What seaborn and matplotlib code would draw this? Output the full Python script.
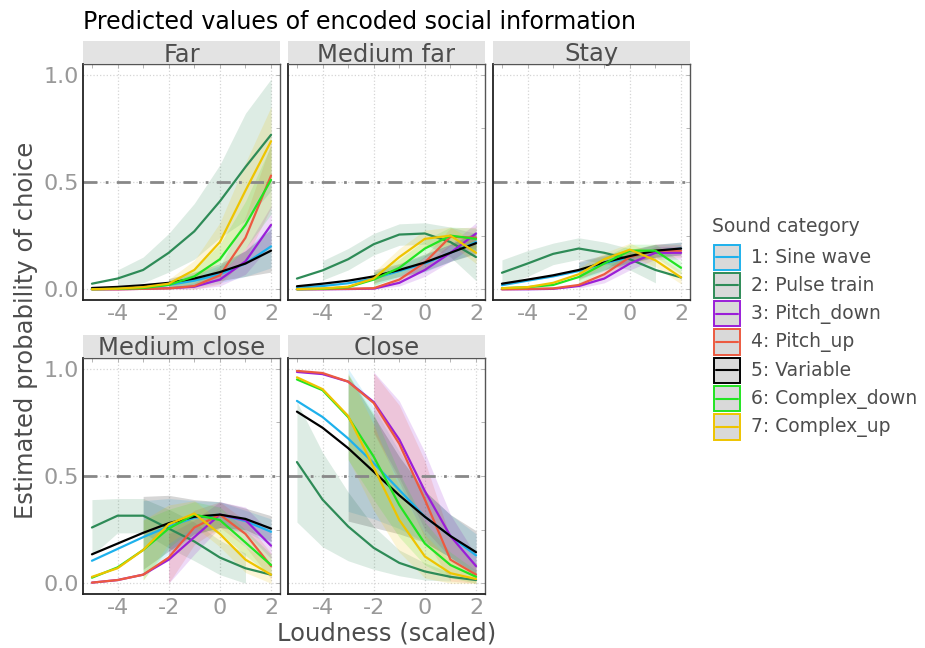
import matplotlib
matplotlib.use("Agg")
import matplotlib.pyplot as plt
from matplotlib.patches import Rectangle
from matplotlib.lines import Line2D
import numpy as np
import pandas as pd
import seaborn as sns

# ---- data ----
loudness = [-5, -4, -3, -2, -1, 0, 1, 2]
categories = ['1: Sine wave', '2: Pulse train', '3: Pitch_down', '4: Pitch_up',
              '5: Variable', '6: Complex_down', '7: Complex_up']
colors = ['#1EB1EC', '#2E8B57', '#9A1ED8', '#EC5A40', '#000000', '#22E422', '#EEC400']
panels = ['Far', 'Medium far', 'Stay', 'Medium close', 'Close']

far = {
    '1: Sine wave':    [0.002, 0.004, 0.008, 0.02, 0.04, 0.07, 0.12, 0.20],
    '2: Pulse train':  [0.026, 0.05, 0.09, 0.17, 0.27, 0.41, 0.57, 0.72],
    '3: Pitch_down':   [0.0, 0.0, 0.002, 0.005, 0.012, 0.045, 0.13, 0.30],
    '4: Pitch_up':     [0.0, 0.0, 0.002, 0.004, 0.015, 0.065, 0.24, 0.53],
    '5: Variable':     [0.006, 0.011, 0.019, 0.03, 0.05, 0.08, 0.12, 0.18],
    '6: Complex_down': [0.0, 0.002, 0.006, 0.02, 0.06, 0.14, 0.30, 0.51],
    '7: Complex_up':   [0.0, 0.003, 0.01, 0.026, 0.09, 0.22, 0.46, 0.69],
}
medium_far = {
    '1: Sine wave':    [0.008, 0.015, 0.028, 0.05, 0.085, 0.12, 0.17, 0.22],
    '2: Pulse train':  [0.05, 0.088, 0.14, 0.21, 0.255, 0.26, 0.22, 0.15],
    '3: Pitch_down':   [0.0, 0.0, 0.001, 0.003, 0.03, 0.09, 0.17, 0.26],
    '4: Pitch_up':     [0.0, 0.001, 0.002, 0.005, 0.045, 0.125, 0.245, 0.24],
    '5: Variable':     [0.014, 0.026, 0.04, 0.06, 0.09, 0.125, 0.17, 0.215],
    '6: Complex_down': [0.0, 0.002, 0.01, 0.045, 0.10, 0.19, 0.25, 0.235],
    '7: Complex_up':   [0.001, 0.004, 0.012, 0.05, 0.15, 0.235, 0.25, 0.17],
}
stay = {
    '1: Sine wave':    [0.019, 0.04, 0.06, 0.085, 0.12, 0.15, 0.178, 0.19],
    '2: Pulse train':  [0.077, 0.12, 0.165, 0.19, 0.17, 0.14, 0.09, 0.055],
    '3: Pitch_down':   [0.0, 0.0, 0.002, 0.015, 0.05, 0.12, 0.17, 0.17],
    '4: Pitch_up':     [0.0, 0.002, 0.004, 0.02, 0.07, 0.15, 0.18, 0.18],
    '5: Variable':     [0.026, 0.045, 0.065, 0.09, 0.125, 0.155, 0.18, 0.19],
    '6: Complex_down': [0.005, 0.01, 0.02, 0.057, 0.12, 0.18, 0.18, 0.10],
    '7: Complex_up':   [0.005, 0.01, 0.03, 0.07, 0.14, 0.185, 0.135, 0.055],
}
medium_close = {
    '1: Sine wave':    [0.105, 0.16, 0.215, 0.265, 0.305, 0.32, 0.29, 0.24],
    '2: Pulse train':  [0.26, 0.315, 0.315, 0.255, 0.195, 0.12, 0.07, 0.04],
    '3: Pitch_down':   [0.003, 0.015, 0.04, 0.11, 0.215, 0.32, 0.295, 0.175],
    '4: Pitch_up':     [0.003, 0.015, 0.04, 0.12, 0.26, 0.32, 0.23, 0.08],
    '5: Variable':     [0.135, 0.185, 0.235, 0.28, 0.31, 0.32, 0.30, 0.255],
    '6: Complex_down': [0.026, 0.074, 0.155, 0.255, 0.32, 0.295, 0.19, 0.085],
    '7: Complex_up':   [0.03, 0.07, 0.155, 0.275, 0.325, 0.23, 0.11, 0.04],
}
close = {
    '1: Sine wave':    [0.85, 0.775, 0.675, 0.56, 0.435, 0.31, 0.22, 0.13],
    '2: Pulse train':  [0.565, 0.39, 0.265, 0.165, 0.095, 0.055, 0.03, 0.015],
    '3: Pitch_down':   [0.985, 0.975, 0.94, 0.845, 0.67, 0.43, 0.22, 0.08],
    '4: Pitch_up':     [0.99, 0.98, 0.94, 0.84, 0.65, 0.39, 0.11, 0.04],
    '5: Variable':     [0.80, 0.725, 0.63, 0.52, 0.41, 0.31, 0.22, 0.145],
    '6: Complex_down': [0.95, 0.90, 0.775, 0.59, 0.365, 0.185, 0.085, 0.03],
    '7: Complex_up':   [0.96, 0.905, 0.78, 0.54, 0.295, 0.125, 0.047, 0.02],
}

# ribbon half-widths (None = no ribbon at that point)
N = None
far_band = {
    '1: Sine wave':    [N, N, N, 0.02, 0.03, 0.04, 0.06, 0.10],
    '2: Pulse train':  [N, 0.04, 0.06, 0.09, 0.13, 0.17, 0.25, 0.26],
    '3: Pitch_down':   [N, N, N, 0.004, 0.01, 0.03, 0.06, 0.09],
    '4: Pitch_up':     [N, N, N, 0.004, 0.015, 0.04, 0.10, 0.15],
    '5: Variable':     [N, N, N, 0.02, 0.03, 0.04, 0.06, 0.10],
    '6: Complex_down': [N, N, N, 0.015, 0.035, 0.07, 0.11, 0.16],
    '7: Complex_up':   [N, N, N, 0.02, 0.045, 0.09, 0.13, 0.16],
}
medium_far_band = {
    '1: Sine wave':    [N, N, N, 0.03, 0.03, 0.04, 0.04, 0.05],
    '2: Pulse train':  [N, 0.045, 0.05, 0.05, 0.05, 0.05, 0.07, 0.11],
    '3: Pitch_down':   [N, N, N, 0.005, 0.015, 0.03, 0.04, 0.05],
    '4: Pitch_up':     [N, N, N, 0.005, 0.015, 0.03, 0.04, 0.05],
    '5: Variable':     [N, N, N, 0.03, 0.03, 0.04, 0.04, 0.05],
    '6: Complex_down': [N, N, N, 0.03, 0.04, 0.04, 0.04, 0.05],
    '7: Complex_up':   [N, N, N, 0.03, 0.04, 0.04, 0.04, 0.05],
}
stay_band = {
    '1: Sine wave':    [N, N, N, 0.04, 0.035, 0.03, 0.03, 0.03],
    '2: Pulse train':  [0.06, 0.06, 0.05, 0.05, 0.05, 0.05, 0.06, N],
    '3: Pitch_down':   [N, N, N, 0.01, 0.02, 0.03, 0.03, 0.03],
    '4: Pitch_up':     [N, N, N, 0.01, 0.02, 0.03, 0.03, 0.03],
    '5: Variable':     [N, N, N, 0.04, 0.035, 0.03, 0.03, 0.03],
    '6: Complex_down': [N, N, N, 0.03, 0.03, 0.03, 0.03, 0.03],
    '7: Complex_up':   [N, N, N, 0.03, 0.03, 0.03, 0.03, 0.03],
}
medium_close_band = {
    '1: Sine wave':    [N, N, 0.17, 0.13, 0.08, 0.06, 0.05, 0.06],
    '2: Pulse train':  [0.13, 0.08, 0.08, 0.09, 0.09, 0.08, 0.07, N],
    '3: Pitch_down':   [N, N, N, 0.12, 0.08, 0.06, 0.06, 0.06],
    '4: Pitch_up':     [N, N, N, 0.12, 0.08, 0.06, 0.06, 0.06],
    '5: Variable':     [N, N, 0.17, 0.13, 0.08, 0.06, 0.05, 0.06],
    '6: Complex_down': [N, N, 0.14, 0.09, 0.06, 0.06, 0.06, 0.05],
    '7: Complex_up':   [N, N, 0.14, 0.09, 0.06, 0.06, 0.06, 0.05],
}
close_band = {
    '1: Sine wave':    [N, N, 0.34, 0.26, 0.18, 0.12, 0.10, 0.10],
    '2: Pulse train':  [0.28, 0.22, 0.16, 0.10, 0.06, 0.04, 0.02, N],
    '3: Pitch_down':   [N, N, N, 0.14, 0.18, 0.18, 0.10, 0.05],
    '4: Pitch_up':     [N, N, N, 0.14, 0.18, 0.18, 0.10, 0.05],
    '5: Variable':     [N, N, 0.34, 0.26, 0.18, 0.12, 0.10, 0.10],
    '6: Complex_down': [N, N, 0.20, 0.20, 0.15, 0.10, 0.06, 0.03],
    '7: Complex_up':   [N, N, 0.20, 0.20, 0.15, 0.10, 0.06, 0.03],
}

panel_data = [far, medium_far, stay, medium_close, close]
panel_band = [far_band, medium_far_band, stay_band, medium_close_band, close_band]

# long table
rows = []
for p, d in zip(panels, panel_data):
    for c in categories:
        for xv, yv in zip(loudness, d[c]):
            rows.append((p, c, xv, yv))
df = pd.DataFrame(rows, columns=['panel', 'category', 'loudness', 'prob'])

# ---- figure ----
sns.set_theme(style='white')
plt.rcParams['font.family'] = ['DejaVu Sans']

W, H = 925, 648
fig = plt.figure(figsize=(W / 100, H / 100), dpi=100)

# pixel boxes (left, top) of each panel
boxes = [(83, 64), (288, 64), (493, 64), (83, 358), (288, 358)]
aw, ah = 197, 236

tick_col = '#999999'
text_col = '#4d4d4d'

for i, (p, band) in enumerate(zip(panels, panel_band)):
    lx, ty = boxes[i]
    ax = fig.add_axes([lx / W, 1 - (ty + ah) / H, aw / W, ah / H])
    sub = df[df['panel'] == p]

    # ribbons
    for c, col in zip(categories, colors):
        yv = np.array(sub[sub['category'] == c]['prob'])
        w = np.array([np.nan if v is None else v for v in band[c]], dtype=float)
        m = ~np.isnan(w)
        xs = np.array(loudness)[m]
        lo = np.clip(yv[m] - w[m], 0, 1)
        hi = np.clip(yv[m] + w[m], 0, 1)
        ax.fill_between(xs, lo, hi, color=col, alpha=0.16, linewidth=0, zorder=1)

    sns.lineplot(data=sub, x='loudness', y='prob', hue='category', hue_order=categories,
                 palette=colors, linewidth=1.6, legend=False, ax=ax, zorder=3)

    ax.axhline(0.5, color='#888888', linewidth=2, linestyle=(0, (5, 3, 1, 3)), zorder=2)

    ax.set_xlim(-5.35, 2.35)
    ax.set_ylim(-0.05, 1.05)
    ax.set_xticks([-4, -2, 0, 2])
    ax.set_xticks([-5, -3, -1, 1], minor=True)
    ax.set_yticks([0, 0.5, 1.0])
    ax.set_yticks([0.25, 0.75], minor=True)
    ax.grid(True, which='major', color='#d5d5d5', linestyle=':', linewidth=0.9)
    ax.set_xlabel('')
    ax.set_ylabel('')
    ax.tick_params(axis='both', which='both', direction='in', top=True, right=True,
                   length=3, width=0.6, color='#aaaaaa', labelsize=16, labelcolor=tick_col, pad=3)
    ax.set_xticklabels(['-4', '-2', '0', '2'])
    if lx == 83:
        ax.set_yticklabels(['0.0', '0.5', '1.0'])
    else:
        ax.set_yticklabels([])
    for side in ['left', 'bottom']:
        ax.spines[side].set_color('#222222')
        ax.spines[side].set_linewidth(1.3)
    for side in ['top', 'right']:
        ax.spines[side].set_color('#555555')
        ax.spines[side].set_linewidth(1.0)

    # facet strip
    sh = 22 / ah
    ax.add_patch(Rectangle((0, 1.004), 1, sh, transform=ax.transAxes, facecolor='#e3e3e3',
                           edgecolor='none', clip_on=False, zorder=0))
    ax.text(0.5, 1 + 2.5 / ah, p, transform=ax.transAxes, ha='center', va='baseline',
            fontsize=17.5, color=text_col)

# titles and axis labels
fig.text(83 / W, 1 - 29 / H, 'Predicted values of encoded social information',
         fontsize=17, color='black', ha='left', va='baseline')
fig.text(387 / W, 1 - 633 / H, 'Loudness (scaled)', fontsize=17.5, color=text_col,
         ha='center', va='center')
fig.text(26 / W, 1 - 330 / H, 'Estimated probability of choice', fontsize=17.5,
         color=text_col, ha='center', va='center', rotation=90)

# legend
fig.text(712 / W, 1 - 232 / H, 'Sound category', fontsize=13.5, color=text_col,
         ha='left', va='baseline')
ky = 243
kh = 28.3
for c, col in zip(categories, colors):
    fig.add_artist(Rectangle((714 / W, 1 - (ky + kh - 1.5) / H), 26 / W, (kh - 3) / H,
                             transform=fig.transFigure, facecolor='#d9d9d9',
                             edgecolor=col, linewidth=1.4))
    cy = 1 - (ky + kh / 2) / H
    fig.add_artist(Line2D([716 / W, 738 / W], [cy, cy], transform=fig.transFigure,
                          color=col, linewidth=1.5))
    fig.text(751 / W, cy, c, fontsize=13.5, color=text_col, ha='left', va='center')
    ky += kh

fig.savefig('out.png', dpi=100)
